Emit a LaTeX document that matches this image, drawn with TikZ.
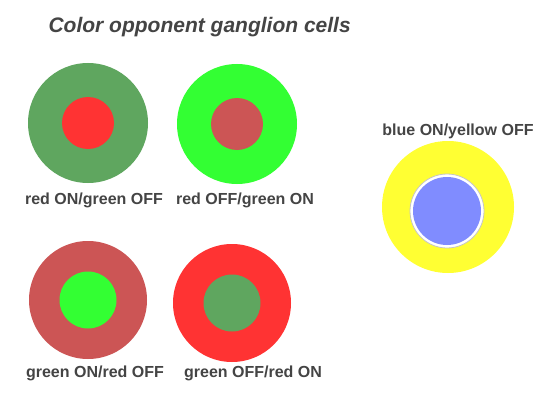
\documentclass[tikz,border=0pt]{standalone}
\usepackage{fontspec}
\setmainfont{Liberation Sans}
\usepackage{tikz}
\usetikzlibrary{positioning}

\definecolor{dullgreen}{RGB}{95,166,95}
\definecolor{brightred}{RGB}{255,51,51}
\definecolor{brightgreen}{RGB}{51,255,51}
\definecolor{dullred}{RGB}{204,85,85}
\definecolor{lemon}{RGB}{255,255,51}
\definecolor{softblue}{RGB}{128,140,255}
\definecolor{inkgray}{RGB}{68,68,68}

\begin{document}
\begin{tikzpicture}[
  x=1pt, y=-1pt,
  font=\bfseries\fontsize{16}{18}\selectfont, text=inkgray,
  cell/.style={circle,minimum size=120pt,inner sep=0pt},
  centre/.style={circle,minimum size=52pt,inner sep=0pt},
  lab/.style={anchor=base},
]
  \useasboundingbox[fill=white] (0,0) rectangle (548,409);
  \node[anchor=base west,font=\bfseries\itshape\fontsize{21}{24}\selectfont] (title) at (45,33) {Color opponent ganglion cells};
  % top row: red centre cells
  \node[cell,fill=dullgreen] (c1) at (88,123) {};
  \node[centre,fill=brightred] (m1) at (c1) {};
  \node[cell,fill=brightgreen] (c2) at (237,124) {};
  \node[centre,fill=dullred] (m2) at (c2) {};
  \node[lab] (l1) at (94,204) {red ON/green OFF};
  \node[lab] (l2) at (245,204) {red OFF/green ON};
  % bottom row: green centre cells
  \node[cell,fill=dullred,minimum size=118pt] (c3) at (88,300) {};
  \node[centre,fill=brightgreen,minimum size=57pt] (m3) at (c3) {};
  \node[cell,fill=brightred,minimum size=118pt] (c4) at (232,303) {};
  \node[centre,fill=dullgreen,minimum size=57pt] (m4) at (c4) {};
  \node[lab] (l3) at (95,377) {green ON/red OFF};
  \node[lab] (l4) at (253,377) {green OFF/red ON};
  % blue/yellow cell
  \node[cell,fill=lemon,minimum size=132pt] (c5) at (448,207) {};
  \node[centre,fill=white,draw=gray!45,line width=0.8pt,minimum size=74pt] (r5) at (447,211) {};
  \node[centre,fill=softblue,minimum size=68pt] (m5) at (r5) {};
  \node[lab] (l5) at (458,135) {blue ON/yellow OFF};
\end{tikzpicture}
\end{document}
